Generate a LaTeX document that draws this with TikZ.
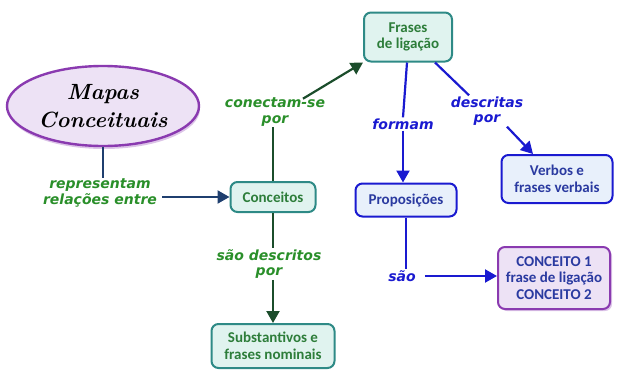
\documentclass[tikz,border=0pt]{standalone}
\usepackage{fontspec}
\setsansfont{Carlito}
\newfontfamily\labfont{DejaVu Sans}
\usetikzlibrary{arrows.meta,shapes.geometric,shadows}
\definecolor{tealb}{HTML}{2E8A86}
\definecolor{tealf}{HTML}{E0F3EF}
\definecolor{greent}{HTML}{2D7D3A}
\definecolor{greenl}{HTML}{2A8F2A}
\definecolor{darkg}{HTML}{1B4D2B}
\definecolor{navy}{HTML}{1F3F6F}
\definecolor{blueb}{HTML}{1A1AD0}
\definecolor{bluef}{HTML}{E8F0FB}
\definecolor{bluet}{HTML}{2A3AA0}
\definecolor{purb}{HTML}{8A3AB0}
\definecolor{purf}{HTML}{EDE2F5}
\begin{document}
\begin{tikzpicture}[x=1pt,y=-1pt,
  boxbase/.style={rounded corners=7pt, line width=2pt, align=center, inner sep=0pt,
    font=\sffamily\bfseries\fontsize{15}{16.5}\selectfont},
  tealbox/.style={boxbase, draw=tealb, fill=tealf, text=greent},
  bluebox/.style={boxbase, draw=blueb, fill=bluef, text=bluet},
  purbox/.style={boxbase, draw=purb, fill=purf, text=bluet, drop shadow={shadow xshift=2pt, shadow yshift=-2pt, fill=purb!60}},
  lab/.style={font=\labfont\bfseries\itshape\fontsize{14}{15.5}\selectfont, align=center, inner sep=1pt},
  greenlab/.style={lab, text=greenl},
  bluelab/.style={lab, text=blueb},
  conn/.style={line width=2.2pt},
  arr/.style={conn, -{Triangle[length=12pt,width=13pt]}}
]
\path[use as bounding box] (0,0) rectangle (620,372);

\node[ellipse, draw=purb, line width=2.4pt, fill=purf, minimum width=186pt, minimum height=80pt,
  drop shadow={shadow xshift=1pt, shadow yshift=-3pt, fill=purb!60},
  font=\bfseries\itshape\fontsize{22}{28}\selectfont, align=center] (ell) at (103,106) {Mapas\\Conceituais};

\node[tealbox, minimum width=85pt, minimum height=30pt] (conc) at (273,197) {Conceitos};
\node[tealbox, minimum width=88pt, minimum height=49pt] (fr) at (408,37) {Frases\\de ligação};
\node[tealbox, minimum width=123pt, minimum height=44pt] (sub) at (273,346) {Substantivos e\\frases nominais};
\node[bluebox, minimum width=101pt, minimum height=33pt] (prop) at (406,200) {Proposições};
\node[bluebox, minimum width=111pt, minimum height=48pt] (verb) at (557,179) {Verbos e\\frases verbais};
\node[purbox, minimum width=112pt, minimum height=62pt] (conc2) at (554,278) {CONCEITO 1\\frase de ligação\\CONCEITO 2};

\node[greenlab] (l1) at (100,193) {representam\\relações entre};
\node[greenlab] (l2) at (275,112) {conectam-se\\por};
\node[greenlab] (l3) at (269,264) {são descritos\\por};
\node[bluelab] (l4) at (403,124) {formam};
\node[bluelab] (l5) at (487,111) {descritas\\por};
\node[bluelab] (l6) at (402,276) {são};

\draw[conn, navy] (ell.south) -- (ell.south |- l1.north);
\draw[arr, navy] (l1.east |- conc.west) ++(4,0) -- (conc.west);

\draw[conn, darkg] (conc.north) -- (conc.north |- l2.south);
\draw[arr, darkg] ([xshift=28pt,yshift=-2pt]l2.north) -- (fr.south west);

\draw[conn, darkg] (conc.south) -- (conc.south |- l3.north);
\draw[arr, darkg] (conc.south |- l3.south) -- (sub.north);

\draw[conn, blueb] ([xshift=-1pt]fr.south) -- (l4.north);
\draw[arr, blueb] (l4.south) -- (l4.south |- prop.north);

\draw[conn, blueb] ([xshift=27pt]fr.south) -- ([xshift=-18pt]l5.north);
\draw[arr, blueb] ([xshift=20pt]l5.south) -- ([xshift=-24pt]verb.north);

\draw[conn, blueb] (prop.south) -- (prop.south |- l6.north);
\draw[arr, blueb] ([xshift=8pt]l6.east) -- (conc2.west |- l6.east);
\end{tikzpicture}
\end{document}
